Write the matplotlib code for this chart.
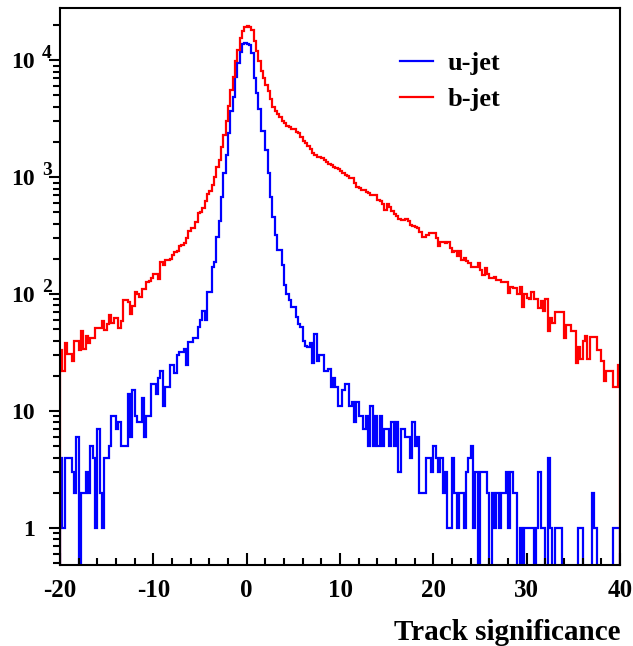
import numpy as np
import matplotlib
matplotlib.use("Agg")
import matplotlib.pyplot as plt
from matplotlib.lines import Line2D
from matplotlib.ticker import FixedLocator, NullFormatter

# Track significance histograms, 240 bins of 0.25 between -20 and 40
x_min, x_max, n_bins = -20, 40, 240

u_jet = [
    4, 1, 4, 4, 4, 3, 2, 6, 0, 2, 2, 3, 2, 5, 4, 1, 7, 2, 1, 4,
    4, 5, 9, 9, 7, 8, 5, 5, 5, 14, 6, 15, 9, 8, 8, 13, 6, 9, 9, 17,
    17, 14, 19, 22, 11, 16, 16, 25, 25, 21, 30, 32, 32, 34, 25, 39, 39, 42, 42, 52,
    60, 72, 60, 105, 105, 170, 190, 310, 420, 680,
    1090, 1560, 2400, 3660, 4900, 7200, 9400, 11800, 13900, 14000,
    13900, 13500, 11500, 7000, 5250, 3800, 2470, 2470, 1720, 1090,
    680, 460, 320, 240, 240, 178, 120, 100, 89, 78,
    78, 64, 55, 52, 40, 36, 35, 38, 26, 46,
    27, 30, 30, 22, 22, 23, 16, 19, 16, 11,
    11, 15, 17, 17, 11, 12, 8, 12, 9, 9,
    7, 9, 5, 11, 5, 9, 5, 9, 5, 7,
    7, 5, 8, 5, 8, 3, 7, 7, 6, 6,
    4, 8, 5, 6, 2, 2, 2, 4, 4, 3,
    5, 4, 3, 4, 2, 3, 1, 1, 4, 2,
    1, 2, 2, 1, 3, 4, 5, 1, 3, 0,
    3, 3, 3, 2, 0, 2, 1, 2, 1, 2,
    2, 3, 1, 3, 2, 2, 0, 1, 0, 1,
    1, 1, 1, 0, 1, 3, 1, 1, 0, 4,
    1, 0, 1, 1, 1, 0, 0, 0, 0, 0,
    0, 0, 1, 1, 0, 0, 0, 0, 2, 1,
    0, 0, 0, 0, 0, 0, 0, 1, 1, 1,
]

b_jet = [
    33, 22, 38, 31, 31, 27, 40, 40, 33, 48, 34, 44, 38, 42, 42, 51, 51, 51, 59, 49,
    55, 66, 57, 63, 62, 51, 59, 89, 89, 86, 68, 79, 105, 100, 95, 110, 110, 127, 130, 138,
    149, 150, 134, 188, 178, 196, 196, 200, 214, 230, 235, 260, 262, 275, 300, 345, 365, 370, 410, 490,
    500, 545, 620, 720, 760, 860, 1000, 1230, 1400, 1800,
    2300, 3000, 4050, 5550, 7250, 9800, 12200, 15500, 17700, 19300,
    19600, 19400, 18300, 14500, 12000, 9900, 8100, 7000, 6200, 5500,
    4700, 4000, 3700, 3500, 3250, 3000, 2900, 2750, 2700, 2600,
    2600, 2450, 2400, 2200, 2050, 1950, 1850, 1750, 1620, 1560,
    1500, 1500, 1450, 1400, 1350, 1300, 1280, 1230, 1200, 1170,
    1120, 1090, 1050, 1020, 980, 990, 900, 820, 810, 780,
    780, 740, 730, 710, 710, 700, 640, 620, 585, 520,
    590, 560, 510, 480, 470, 440, 430, 430, 440, 420,
    390, 380, 375, 370, 340, 310, 310, 320, 335, 330,
    330, 300, 260, 280, 280, 275, 280, 250, 230, 232,
    210, 232, 195, 205, 192, 185, 170, 170, 172, 185,
    160, 145, 167, 150, 137, 137, 141, 133, 133, 128,
    128, 128, 103, 114, 112, 112, 101, 114, 78, 100,
    92, 90, 105, 90, 90, 76, 87, 72, 90, 48,
    62, 57, 70, 70, 71, 71, 42, 54, 54, 48,
    48, 26, 35, 28, 40, 44, 28, 43, 43, 43,
    33, 33, 27, 18, 22, 22, 22, 16, 16, 25,
]

x_ticks = [-20, -10, 0, 10, 20, 30, 40]
y_ticks = [1, 10, 100, 1000, 10000]
y_tick_labels = ["1", "10", "10", "10", "10"]
y_exponents = [2, 3, 4]

plt.rcParams["font.family"] = "Liberation Serif"
plt.rcParams["font.weight"] = "bold"
plt.rcParams["axes.unicode_minus"] = False

fig = plt.figure(figsize=(6.33, 6.46), dpi=100)
ax = fig.add_axes([60 / 633, 81 / 646, 560 / 633, 557 / 646])

edges = np.linspace(x_min, x_max, n_bins + 1)
floor = 1e-3  # empty bins drop to the bottom of the frame
ax.stairs(np.clip(u_jet, floor, None), edges, baseline=floor, color="blue", lw=1.6)
ax.stairs(np.clip(b_jet, floor, None), edges, baseline=floor, color="red", lw=1.6)

ax.set_yscale("log")
ax.set_xlim(x_min, x_max)
ax.set_ylim(0.482, 2.8e4)

for s in ax.spines.values():
    s.set_linewidth(1.5)

ax.set_xticks(x_ticks)
ax.xaxis.set_minor_locator(FixedLocator(np.arange(-20, 41, 2)))
ax.set_yticks(y_ticks)
ax.set_yticklabels(y_tick_labels)
ax.yaxis.set_minor_locator(FixedLocator([m * 10.0 ** e for e in range(-1, 5) for m in range(2, 10)]))
ax.yaxis.set_minor_formatter(NullFormatter())

ax.tick_params(axis="x", which="both", direction="in", top=False, labelsize=18, pad=10, width=1.5)
ax.tick_params(axis="x", which="major", length=9)
ax.tick_params(axis="x", which="minor", length=5)
ax.tick_params(axis="y", which="both", direction="out", right=False, labelsize=17, pad=10, width=1.5)
ax.tick_params(axis="y", which="major", length=8)
ax.tick_params(axis="y", which="minor", length=5)

for e in y_exponents:
    ax.annotate(str(e), xy=(0, 10.0 ** e), xycoords=("axes fraction", "data"),
                xytext=(-13, 5), textcoords="offset points", fontsize=14,
                ha="left", va="center")

fig.text(620 / 633, 6 / 646, "Track significance", ha="right", va="baseline", fontsize=21)

handles = [Line2D([], [], color="blue", lw=1.6), Line2D([], [], color="red", lw=1.6)]
ax.legend(handles, ["u-jet", "b-jet"], loc="upper left", bbox_to_anchor=(400 / 633, 1 - 52 / 646),
          bbox_transform=fig.transFigure, frameon=False, fontsize=19, borderpad=0,
          borderaxespad=0, handlelength=1.25, handletextpad=0.55, labelspacing=0.45)

fig.savefig("out.png", dpi=100)
